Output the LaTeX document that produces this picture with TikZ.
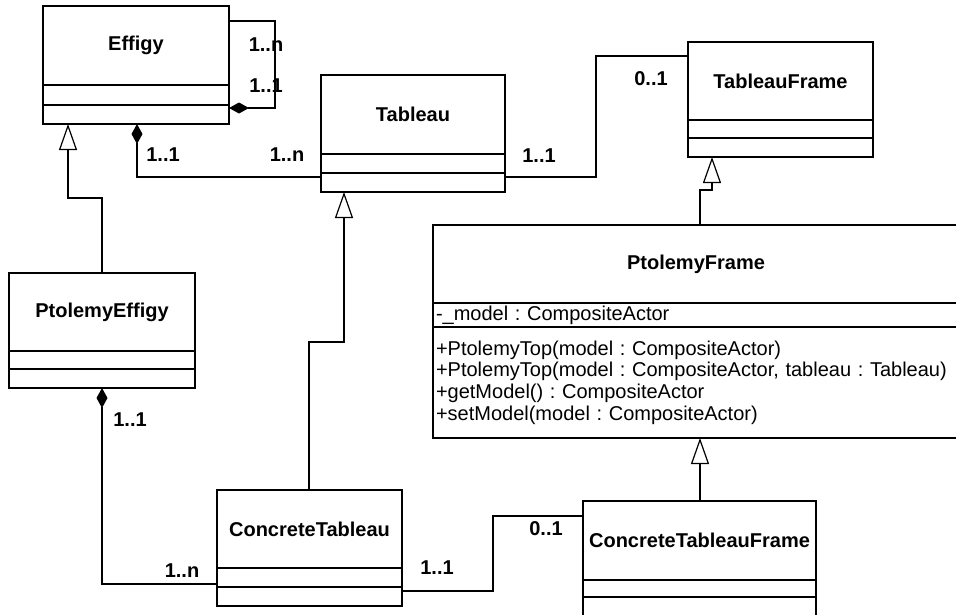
\documentclass[tikz,border=0pt]{standalone}
\usepackage{fontspec}
\setmainfont{Liberation Sans}
\usetikzlibrary{positioning,arrows.meta}
\frenchspacing

\tikzset{
 cname/.style={draw, line width=2pt, outer sep=0pt, inner sep=1pt, font=\bfseries\fontsize{20}{22}\selectfont},
 cpart/.style={draw, line width=2pt, outer sep=0pt, inner sep=0pt},
 ctext/.style={cpart, inner xsep=3pt, align=left, font=\fontsize{20}{21.7}\selectfont},
 mult/.style={inner sep=0pt, font=\bfseries\fontsize{20}{22}\selectfont},
 assoc/.style={line width=1.2pt},
 inherit/.style={line width=1.2pt, -{Triangle[open,length=26pt,width=18pt]}},
 compos/.style={line width=1.2pt, {Diamond[length=20pt,width=11pt]}-},
}

\begin{document}
\begin{tikzpicture}[x=1pt,y=-1pt]
 \clip (0,0) rectangle (956,614);
 % classes
 \node[cname, minimum width=186, minimum height=79, anchor=north west] (effigy) at (43,6) {Effigy};
 \node[cpart, minimum width=186, minimum height=20, below=0pt of effigy] (effigyA) {};
 \node[cpart, minimum width=186, minimum height=19, below=0pt of effigyA] (effigyO) {};

 \node[cname, minimum width=184, minimum height=79, anchor=north west] (tableau) at (321,75) {Tableau};
 \node[cpart, minimum width=184, minimum height=19, below=0pt of tableau] (tableauA) {};
 \node[cpart, minimum width=184, minimum height=19, below=0pt of tableauA] (tableauO) {};

 \node[cname, minimum width=185, minimum height=78, anchor=north west] (tabFrame) at (688,42) {TableauFrame};
 \node[cpart, minimum width=185, minimum height=18, below=0pt of tabFrame] (tabFrameA) {};
 \node[cpart, minimum width=185, minimum height=19, below=0pt of tabFrameA] (tabFrameO) {};

 \node[cname, minimum width=186, minimum height=78, anchor=north west] (ptEffigy) at (9,273) {PtolemyEffigy};
 \node[cpart, minimum width=186, minimum height=18, below=0pt of ptEffigy] (ptEffigyA) {};
 \node[cpart, minimum width=186, minimum height=19, below=0pt of ptEffigyA] (ptEffigyO) {};

 \node[cname, minimum width=526, minimum height=78, anchor=north west] (ptFrame) at (433,225) {PtolemyFrame};
 \node[ctext, minimum width=526, minimum height=24, text width=520, below=0pt of ptFrame] (ptFrameA) {-\_model : CompositeActor};
 \node[ctext, minimum width=526, minimum height=111, text width=520, below=0pt of ptFrameA] (ptFrameO)
  {+PtolemyTop(model : CompositeActor)\\
   +PtolemyTop(model : CompositeActor, tableau : Tableau)\\
   +getModel() : CompositeActor\\
   +setModel(model : CompositeActor)};

 \node[cname, minimum width=185, minimum height=78, anchor=north west] (concTab) at (217,490) {ConcreteTableau};
 \node[cpart, minimum width=185, minimum height=19, below=0pt of concTab] (concTabA) {};
 \node[cpart, minimum width=185, minimum height=19, below=0pt of concTabA] (concTabO) {};

 \node[cname, minimum width=233, minimum height=79, anchor=north west] (concFrame) at (583,501) {ConcreteTableauFrame};
 \node[cpart, minimum width=233, minimum height=17, below=0pt of concFrame] (concFrameA) {};
 \node[cpart, minimum width=233, minimum height=24, below=0pt of concFrameA] (concFrameO) {};

 % connectors
 \draw[compos] ([yshift=-3pt]effigyO.north east) -- ++(46,0) |- ([yshift=-15pt]effigy.north east);
 \draw[compos] ([xshift=94pt]effigyO.south west) |- ([yshift=-4pt]tableauO.north west);
 \draw[assoc] ([yshift=-4pt]tableauO.north east) -- ++(91,0) |- ([yshift=-14pt]tabFrame.north west);
 \draw[inherit] ([xshift=93pt]ptEffigy.north west) -- ++(0,-75) -| ([xshift=25pt]effigyO.south west);
 \draw[inherit] ([xshift=92pt]concTab.north west) -- ++(0,-148) -| ([xshift=23pt]tableauO.south west);
 \draw[inherit] ([xshift=267pt]ptFrame.north west) -- ++(0,-35) -| ([xshift=24pt]tabFrameO.south west);
 \draw[inherit] ([xshift=117pt]concFrame.north west) -- ([xshift=267pt]ptFrameO.south west);
 \draw[compos] ([xshift=93pt]ptEffigyO.south west) |- ([yshift=3pt]concTabA.south west);
 \draw[assoc] ([yshift=-4pt]concTabO.north east) -- ++(91,0) |- ([yshift=-15pt]concFrame.north west);

 % multiplicities
 \node[mult] (selfN) at (266,45) {1..n};
 \node[mult] (selfOne) at (266,86) {1..1};
 \node[mult] (effTabOne) at (163,155) {1..1};
 \node[mult] (effTabN) at (287,155) {1..n};
 \node[mult] (tabFrOne) at (539,156) {1..1};
 \node[mult] (tabFrZero) at (651,79) {0..1};
 \node[mult] (ptEffOne) at (130,420) {1..1};
 \node[mult] (ptEffN) at (182,571) {1..n};
 \node[mult] (concOne) at (437,568) {1..1};
 \node[mult] (concZero) at (546,529) {0..1};
\end{tikzpicture}
\end{document}
